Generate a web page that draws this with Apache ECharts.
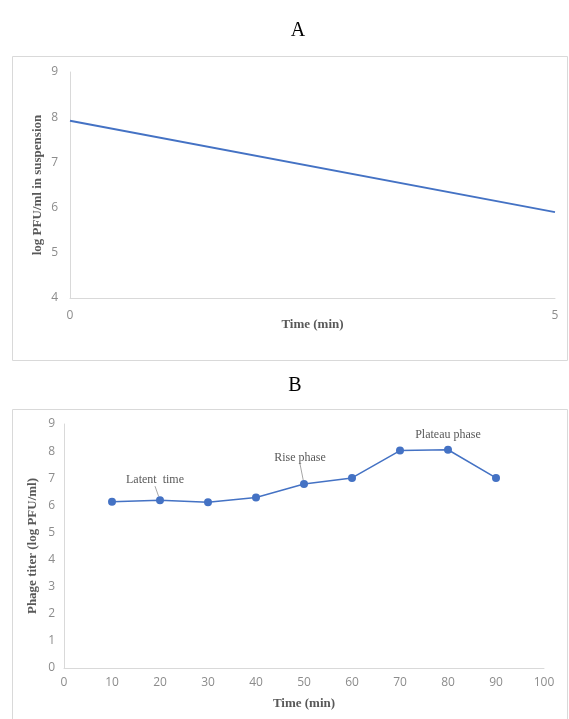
<!DOCTYPE html>
<html>
<head>
<meta charset="utf-8">
<script src="https://cdn.jsdelivr.net/npm/echarts@6/dist/echarts.min.js"></script>
<style>
  html, body { margin: 0; padding: 0; background: #fff; }
  #chart { width: 569px; height: 719px; }
</style>
</head>
<body>
<div id="chart"></div>
<script>
// panel A: decline of free phage in suspension
var timeA = [0, 5];
var logPfuA = [7.92, 5.9];

// panel B: one-step growth curve
var timeB = [10, 20, 30, 40, 50, 60, 70, 80, 90];
var titerB = [6.13, 6.19, 6.11, 6.29, 6.79, 7.01, 8.02, 8.05, 7.01];

// phase annotations (index into timeB)
var phaseNotes = [
  { index: 1, text: 'Latent  time' },
  { index: 4, text: 'Rise phase' },
  { index: 7, text: 'Plateau phase' }
];

var lineColor = '#4472c4';
var tickColor = '#8c8c8c';
var nameColor = '#595959';
var axisLineColor = '#d9d9d9';
var serif = '"Liberation Serif", "DejaVu Serif", serif';
var sans = '"Open Sans", "Liberation Sans", sans-serif';

var chart = echarts.init(document.getElementById('chart'));

// label moves for the notes that have a leader line
var noteShift = { 1: [-5, -2], 4: [-4, -8] };

var seriesA = timeA.map(function (t, i) { return [t, logPfuA[i]]; });
var seriesB = timeB.map(function (t, i) {
  var note = phaseNotes.filter(function (n) { return n.index === i; })[0];
  var item = { value: [t, titerB[i]] };
  if (note) {
    item.label = {
      show: true,
      formatter: note.text,
      position: 'top',
      distance: noteShift[i] ? 8 : 5,
      fontFamily: serif,
      fontSize: 12,
      color: nameColor
    };
    item.labelLine = { show: !!noteShift[i] };
  }
  return item;
});

function axisCommon() {
  return {
    axisTick: { show: false },
    splitLine: { show: false },
    axisLine: { show: true, lineStyle: { color: axisLineColor, width: 1 } },
    axisLabel: { color: tickColor, fontFamily: sans, fontSize: 12 },
    nameLocation: 'middle',
    nameMoveOverlap: false,
    nameTextStyle: { color: nameColor, fontFamily: serif, fontSize: 13, fontWeight: 'bold' }
  };
}

var xA = Object.assign(axisCommon(), {
  gridIndex: 0, type: 'value', min: 0, max: 5, interval: 5,
  name: 'Time (min)', nameGap: 20
});
xA.axisLabel.margin = 12;
var yA = Object.assign(axisCommon(), {
  gridIndex: 0, type: 'value', min: 4, max: 9, interval: 1,
  name: 'log PFU/ml in suspension', nameGap: 26
});
yA.axisLabel.margin = 12;

var xB = Object.assign(axisCommon(), {
  gridIndex: 1, type: 'value', min: 0, max: 100, interval: 10,
  name: 'Time (min)', nameGap: 29
});
xB.axisLabel.margin = 9;
var yB = Object.assign(axisCommon(), {
  gridIndex: 1, type: 'value', min: 0, max: 9, interval: 1,
  name: 'Phage titer (log PFU/ml)', nameGap: 25
});
yB.axisLabel.margin = 9;

chart.setOption({
  animation: false,
  title: [
    { text: 'A', left: 293, top: 16, textAlign: 'center',
      textStyle: { fontFamily: serif, fontSize: 20, fontWeight: 'normal', color: '#000' } },
    { text: 'B', left: 290, top: 371, textAlign: 'center',
      textStyle: { fontFamily: serif, fontSize: 20, fontWeight: 'normal', color: '#000' } }
  ],
  graphic: [
    { type: 'rect', shape: { x: 12.5, y: 56.5, width: 555, height: 304 },
      style: { fill: 'none', stroke: '#d9d9d9', lineWidth: 1 }, z: -1 },
    { type: 'rect', shape: { x: 12.5, y: 409.5, width: 555, height: 320 },
      style: { fill: 'none', stroke: '#d9d9d9', lineWidth: 1 }, z: -1 }
  ],
  grid: [
    { left: 70, right: 14, top: 72, height: 226 },
    { left: 64, right: 25, top: 424, height: 244 }
  ],
  xAxis: [xA, xB],
  yAxis: [yA, yB],
  series: [
    {
      type: 'line', xAxisIndex: 0, yAxisIndex: 0,
      data: seriesA, showSymbol: false, symbol: 'none',
      lineStyle: { color: lineColor, width: 2 }
    },
    {
      type: 'line', xAxisIndex: 1, yAxisIndex: 1,
      data: seriesB, symbol: 'circle', symbolSize: 8,
      itemStyle: { color: lineColor },
      lineStyle: { color: lineColor, width: 1.5 },
      labelLine: { lineStyle: { color: '#a6a6a6', width: 1 } },
      labelLayout: function (p) {
        var s = noteShift[p.dataIndex];
        if (!s) return {};
        return { dx: s[0], dy: s[1] };
      }
    }
  ]
});
</script>
</body>
</html>
